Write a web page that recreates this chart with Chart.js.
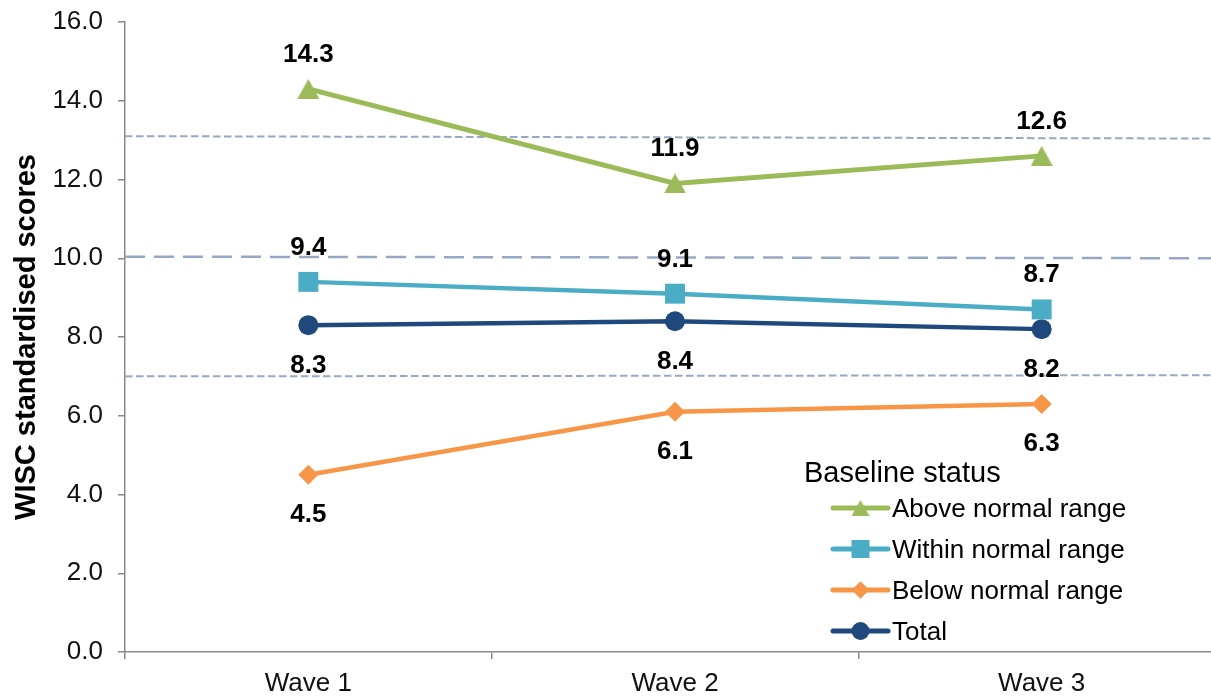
<!DOCTYPE html>
<html>
<head>
<meta charset="utf-8">
<script src="https://cdn.jsdelivr.net/npm/chart.js@4/dist/chart.umd.min.js"></script>
<style>
  html, body { margin: 0; padding: 0; background: #ffffff; overflow: hidden; }
  #wrap { width: 1240px; height: 697px; }
</style>
</head>
<body>
<div id="wrap"><canvas id="chart" width="1240" height="697"></canvas></div>
<script>
// WISC standardised scores by wave, grouped by baseline status
const categories = ['Wave 1', 'Wave 2', 'Wave 3'];
const aboveNormal = [14.3, 11.9, 12.6];
const withinNormal = [9.4, 9.1, 8.7];
const belowNormal = [4.5, 6.1, 6.3];
const total = [8.3, 8.4, 8.2];

const seriesNames = ['Above normal range', 'Within normal range', 'Below normal range', 'Total'];
const legendTitle = 'Baseline status';
const axisTitle = 'WISC standardised scores';

// y axis range
const yMin = 0;
const yMax = 16;
const yStep = 2;

// reference bands (+1 SD, mean, -1 SD), value at the left and right end of the plot
const bandEnds = [0, 1];
const upperBand = [13.1, 13.04];
const normMean = [10.04, 10.0];
const lowerBand = [7.0, 7.03];

const FONT = '"Liberation Sans", Arial, Helvetica, sans-serif';
const GREEN = '#9BBB59', TEAL = '#4BACC6', ORANGE = '#F79646', NAVY = '#1F497D';
const REF = '#97A8C4', AXIS = '#898989';

// triangle marker, centred on its bounding box
function triangleImage(color, w, h) {
  const c = document.createElement('canvas');
  c.width = w; c.height = h;
  const g = c.getContext('2d');
  g.fillStyle = color;
  g.beginPath();
  g.moveTo(w / 2, 0);
  g.lineTo(w, h);
  g.lineTo(0, h);
  g.closePath();
  g.fill();
  return c;
}
const bigTriangle = triangleImage(GREEN, 22, 20);
const smallTriangle = triangleImage(GREEN, 18, 16);

function series(label, data, color, style, radius, width, labelAt, legendStyle, legendRadius) {
  return {
    label, data,
    borderColor: color, backgroundColor: color,
    borderWidth: width,
    pointStyle: style, pointRadius: radius, pointHoverRadius: radius,
    pointBorderWidth: 0, pointBackgroundColor: color,
    tension: 0, xAxisID: 'x', yAxisID: 'y',
    labelAt, legendStyle, legendRadius, order: 1
  };
}
function band(values, dash, width) {
  return {
    data: bandEnds.map((x, i) => ({ x, y: values[i] })),
    xAxisID: 'xr', yAxisID: 'y',
    borderColor: REF, borderWidth: width, borderDash: dash,
    pointRadius: 0, pointHoverRadius: 0, fill: false,
    isBand: true, order: 10
  };
}

const datasets = [
  series(seriesNames[0], aboveNormal, GREEN, bigTriangle, 11, 5, 'above', smallTriangle, 9),
  series(seriesNames[1], withinNormal, TEAL, 'rect', 14.1, 4.5, 'above', 'rect', 12.7),
  series(seriesNames[2], belowNormal, ORANGE, 'rectRot', 10, 4.5, 'below', 'rectRot', 8.8),
  series(seriesNames[3], total, NAVY, 'circle', 10, 4.5, 'below', 'circle', 9),
  band(upperBand, [7.5, 3.5], 2),
  band(normMean, [20, 9], 2.5),
  band(lowerBand, [7.5, 3.5], 2)
];

// value labels above/below each point
const valueLabels = {
  id: 'valueLabels',
  afterDatasetsDraw(chart) {
    const ctx = chart.ctx;
    ctx.save();
    ctx.font = 'bold 26px ' + FONT;
    ctx.fillStyle = '#000000';
    ctx.textAlign = 'center';
    ctx.textBaseline = 'alphabetic';
    chart.data.datasets.forEach((ds, i) => {
      if (ds.isBand) return;
      const meta = chart.getDatasetMeta(i);
      meta.data.forEach((pt, j) => {
        const y = ds.labelAt === 'above' ? pt.y - 27 : pt.y + 47.5;
        ctx.fillText(ds.data[j].toFixed(1), pt.x, y);
      });
    });
    ctx.restore();
  }
};

// legend inside the plot, bottom right
const legendBox = { titleX: 804, titleY: 482, lineX0: 833, lineX1: 888, firstRow: 508, rowGap: 41, textX: 892 };
const insideLegend = {
  id: 'insideLegend',
  afterDraw(chart) {
    const ctx = chart.ctx;
    const L = legendBox;
    ctx.save();
    ctx.fillStyle = '#000000';
    ctx.textAlign = 'left';
    ctx.textBaseline = 'alphabetic';
    ctx.font = '29px ' + FONT;
    ctx.fillText(legendTitle, L.titleX, L.titleY);
    let row = 0;
    chart.data.datasets.forEach(ds => {
      if (ds.isBand) return;
      const y = L.firstRow + row * L.rowGap;
      ctx.strokeStyle = ds.borderColor;
      ctx.lineWidth = 5;
      ctx.lineCap = 'round';
      ctx.setLineDash([]);
      ctx.beginPath();
      ctx.moveTo(L.lineX0, y);
      ctx.lineTo(L.lineX1, y);
      ctx.stroke();
      ctx.fillStyle = ds.borderColor;
      Chart.helpers.drawPoint(ctx, {
        pointStyle: ds.legendStyle, radius: ds.legendRadius, rotation: 0, borderWidth: 0
      }, (L.lineX0 + L.lineX1) / 2, y);
      ctx.fillStyle = '#000000';
      ctx.font = '26px ' + FONT;
      ctx.fillText(ds.label, L.textX, y + 9);
      row++;
    });
    ctx.restore();
  }
};

new Chart(document.getElementById('chart'), {
  type: 'line',
  data: { labels: categories, datasets },
  plugins: [valueLabels, insideLegend],
  options: {
    responsive: false,
    devicePixelRatio: 1,
    animation: false,
    events: [],
    layout: { padding: { top: 22, right: 15, bottom: 0, left: 0 } },
    plugins: { legend: { display: false }, tooltip: { enabled: false }, title: { display: false } },
    scales: {
      x: {
        type: 'category',
        offset: true,
        grid: { drawOnChartArea: false, drawTicks: true, tickLength: 7, offset: true, color: AXIS, lineWidth: 1.5 },
        border: { color: AXIS, width: 1.5 },
        ticks: { color: '#111111', font: { family: FONT, size: 26 }, padding: 9, maxRotation: 0 },
        afterFit(s) { s.height = 45; s.paddingLeft = 0; s.paddingRight = 0; }
      },
      xr: {
        type: 'linear', display: false, min: 0, max: 1
      },
      y: {
        min: yMin, max: yMax,
        ticks: {
          stepSize: yStep, color: '#111111', padding: 15,
          font: { family: FONT, size: 26 },
          callback: v => v.toFixed(1)
        },
        grid: { drawOnChartArea: false, drawTicks: true, tickLength: 7, color: AXIS, lineWidth: 1.5 },
        border: { color: AXIS, width: 1.5 },
        title: {
          display: true, text: axisTitle, color: '#000000',
          font: { family: FONT, size: 29, weight: 'bold' },
          padding: { top: 10, bottom: 0 }
        },
        afterFit(s) { s.width = 125; s.paddingTop = 0; s.paddingBottom = 0; }
      }
    }
  }
});
</script>
</body>
</html>
